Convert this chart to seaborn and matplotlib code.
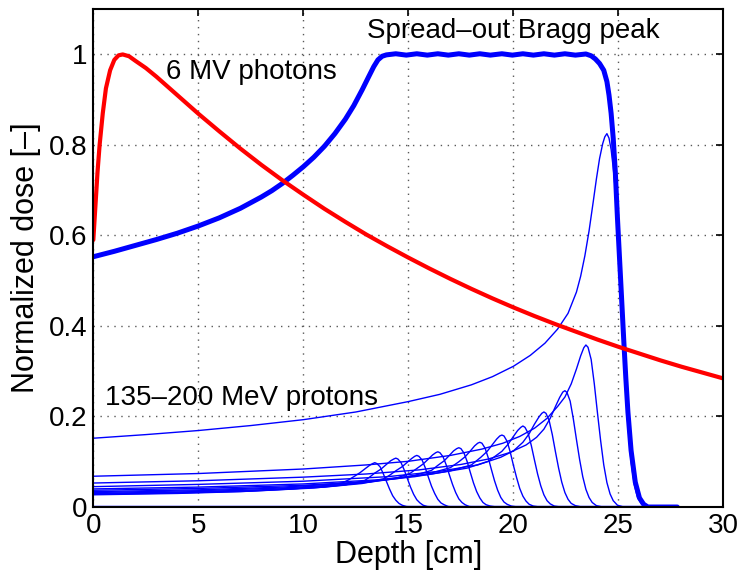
import matplotlib
matplotlib.use("Agg")
import matplotlib.pyplot as plt
import seaborn as sns

# ---------------- data ----------------
photon_depth = [0, 0.1, 0.2, 0.3, 0.45, 0.6, 0.8, 1.0, 1.2, 1.4, 1.7, 2.0, 2.5, 3, 4, 5, 6, 7, 8, 9, 10,
                11, 12, 13, 14, 15, 16, 17, 18, 19, 20, 21, 22, 23, 24, 25, 26, 27, 28, 29, 30]
photon_dose = [0.59, 0.665, 0.74, 0.80, 0.87, 0.925, 0.965, 0.988, 0.998, 1.0, 0.996, 0.986, 0.970,
               0.951, 0.910, 0.869, 0.830, 0.792, 0.756, 0.722, 0.690, 0.659, 0.630, 0.602, 0.576,
               0.551, 0.527, 0.504, 0.482, 0.461, 0.441, 0.422, 0.404, 0.387, 0.370, 0.354, 0.339,
               0.324, 0.310, 0.297, 0.284]

sobp_depth = [0, 1, 2, 3, 4, 5, 6, 7, 8, 8.5, 9, 9.5, 10, 10.5, 11, 11.5, 12, 12.4, 12.8, 13.1, 13.35,
              13.55, 13.75, 13.95, 14.4, 14.9, 15.4, 15.9, 16.4, 16.9, 17.4, 17.9, 18.4, 18.9, 19.45,
              19.95, 20.45, 20.95, 21.45, 21.95, 22.45, 22.95, 23.45, 23.7, 23.9, 24.1, 24.3, 24.45,
              24.55, 24.65, 24.75, 24.85, 24.95, 25.05, 25.15, 25.25, 25.35, 25.45, 25.6, 25.8, 26.0,
              26.2, 26.4, 27.8]
sobp_dose = [0.553, 0.565, 0.578, 0.591, 0.605, 0.621, 0.639, 0.660, 0.685, 0.699, 0.715, 0.733,
             0.752, 0.773, 0.797, 0.825, 0.857, 0.887, 0.922, 0.950, 0.973, 0.988, 0.996, 0.999,
             1.0015, 0.9985, 1.0015, 0.9985, 1.0015, 0.9985, 1.0015, 0.9985, 1.0015, 0.9985, 1.0015,
             0.9985, 1.0015, 0.9985, 1.0015, 0.9985, 1.0015, 0.9985, 1.001, 0.997, 0.99, 0.98,
             0.965, 0.94, 0.91, 0.87, 0.815, 0.74, 0.64, 0.55, 0.46, 0.37, 0.285, 0.21, 0.125,
             0.055, 0.02, 0.006, 0.0, 0.0]

baseline_depth = [0, 27.8]
baseline_dose = [0, 0]

# pristine Bragg peaks (135-200 MeV), one row per beam energy
pristine_depths = [
    [0, 4, 7, 9.5, 11.0, 11.9, 12.15, 12.4, 12.7, 12.95, 13.15, 13.3, 13.4, 13.5, 13.65, 13.8, 13.95, 14.1, 14.25, 14.4, 14.55, 14.7, 14.9, 15.2],
    [0, 4, 7.5, 10.5, 12.0, 12.9, 13.15, 13.4, 13.7, 13.95, 14.15, 14.3, 14.4, 14.5, 14.65, 14.8, 14.95, 15.1, 15.25, 15.4, 15.55, 15.7, 15.9, 16.2],
    [0, 4, 8, 11, 12.8, 13.8, 14.1, 14.4, 14.7, 14.95, 15.15, 15.3, 15.4, 15.5, 15.65, 15.8, 15.95, 16.1, 16.25, 16.4, 16.55, 16.7, 16.9, 17.2],
    [0, 4, 8, 11, 13.2, 14.5, 15.1, 15.4, 15.7, 15.95, 16.15, 16.3, 16.4, 16.5, 16.65, 16.8, 16.95, 17.1, 17.25, 17.4, 17.55, 17.7, 17.9, 18.2],
    [0, 5, 9, 12, 14.0, 15.3, 16.1, 16.4, 16.7, 16.95, 17.15, 17.3, 17.4, 17.5, 17.65, 17.8, 17.95, 18.1, 18.25, 18.4, 18.55, 18.7, 18.9, 19.2],
    [0, 5, 9, 12, 14.5, 16.0, 17.0, 17.4, 17.7, 17.95, 18.15, 18.3, 18.4, 18.5, 18.65, 18.8, 18.95, 19.1, 19.25, 19.4, 19.55, 19.7, 19.9, 20.2],
    [0, 5, 10, 13, 15.3, 17.0, 18.0, 18.45, 18.75, 19.0, 19.2, 19.35, 19.45, 19.55, 19.7, 19.85, 20.0, 20.15, 20.3, 20.45, 20.6, 20.75, 20.95, 21.25],
    [0, 5, 10, 13.5, 16, 17.8, 18.8, 19.45, 19.75, 20.0, 20.2, 20.35, 20.45, 20.55, 20.7, 20.85, 21.0, 21.15, 21.3, 21.45, 21.6, 21.75, 21.95, 22.25],
    [0, 5, 10, 14, 16.5, 18.3, 19.4, 20.0, 20.45, 20.75, 21.0, 21.2, 21.35, 21.45, 21.55, 21.7, 21.85, 22.0, 22.15, 22.3, 22.45, 22.6, 22.75, 22.95, 23.25],
    [0, 5, 10, 13, 15.5, 17.5, 18.8, 19.8, 20.6, 21.1, 21.45, 21.75, 22.0, 22.2, 22.35, 22.45, 22.55, 22.7, 22.85, 23.0, 23.15, 23.3, 23.45, 23.6, 23.75, 23.95, 24.25],
    [0, 5, 10, 13, 15, 17, 18.5, 19.5, 20.3, 21.0, 21.6, 22.1, 22.45, 22.75, 23.0, 23.2, 23.35, 23.45, 23.55, 23.7, 23.85, 24.0, 24.15, 24.3, 24.45, 24.6, 24.75, 24.95, 25.25],
    [0, 2.5, 5, 7.5, 10, 12.5, 15, 16.5, 18, 19, 20, 20.8, 21.5, 22.1, 22.6, 23.0, 23.2, 23.4, 23.6, 23.8, 23.95, 24.1, 24.25, 24.35, 24.45, 24.55, 24.65, 24.75, 24.85, 24.95, 25.05, 25.15, 25.25, 25.35, 25.45, 25.6, 25.75, 25.9, 26.1, 26.35],
]
pristine_doses = [
    [0.027, 0.030, 0.034, 0.040, 0.046, 0.054, 0.060, 0.067, 0.076, 0.085, 0.092, 0.096, 0.098, 0.096, 0.089, 0.074, 0.057, 0.040, 0.025, 0.015, 0.008, 0.004, 0.001, 0.0],
    [0.028, 0.031, 0.035, 0.042, 0.049, 0.058, 0.066, 0.075, 0.084, 0.094, 0.102, 0.106, 0.108, 0.106, 0.098, 0.082, 0.063, 0.044, 0.028, 0.016, 0.009, 0.004, 0.001, 0.0],
    [0.029, 0.032, 0.037, 0.044, 0.052, 0.062, 0.070, 0.080, 0.089, 0.099, 0.107, 0.112, 0.114, 0.112, 0.104, 0.087, 0.066, 0.046, 0.030, 0.017, 0.009, 0.005, 0.001, 0.0],
    [0.030, 0.033, 0.038, 0.045, 0.055, 0.065, 0.075, 0.085, 0.095, 0.106, 0.115, 0.120, 0.122, 0.120, 0.111, 0.093, 0.071, 0.050, 0.032, 0.018, 0.010, 0.005, 0.001, 0.0],
    [0.032, 0.036, 0.042, 0.050, 0.060, 0.070, 0.081, 0.092, 0.102, 0.114, 0.124, 0.129, 0.131, 0.129, 0.119, 0.100, 0.076, 0.053, 0.034, 0.020, 0.010, 0.005, 0.002, 0.0],
    [0.034, 0.038, 0.044, 0.052, 0.063, 0.074, 0.087, 0.100, 0.111, 0.124, 0.135, 0.141, 0.143, 0.141, 0.130, 0.109, 0.083, 0.058, 0.037, 0.021, 0.011, 0.006, 0.002, 0.0],
    [0.037, 0.041, 0.048, 0.056, 0.067, 0.080, 0.093, 0.110, 0.123, 0.138, 0.150, 0.157, 0.159, 0.157, 0.145, 0.121, 0.092, 0.065, 0.041, 0.024, 0.013, 0.006, 0.002, 0.0],
    [0.040, 0.044, 0.051, 0.060, 0.072, 0.086, 0.101, 0.123, 0.139, 0.156, 0.169, 0.176, 0.179, 0.176, 0.163, 0.136, 0.104, 0.073, 0.047, 0.027, 0.014, 0.007, 0.002, 0.0],
    [0.045, 0.050, 0.057, 0.067, 0.079, 0.093, 0.110, 0.124, 0.143, 0.162, 0.183, 0.198, 0.207, 0.210, 0.207, 0.191, 0.160, 0.122, 0.086, 0.055, 0.032, 0.017, 0.008, 0.003, 0.0],
    [0.053, 0.058, 0.066, 0.073, 0.082, 0.094, 0.106, 0.120, 0.137, 0.154, 0.172, 0.196, 0.222, 0.242, 0.254, 0.257, 0.253, 0.234, 0.195, 0.149, 0.105, 0.067, 0.039, 0.021, 0.010, 0.003, 0.0],
    [0.068, 0.074, 0.084, 0.093, 0.101, 0.114, 0.128, 0.141, 0.156, 0.174, 0.196, 0.222, 0.243, 0.272, 0.305, 0.334, 0.352, 0.358, 0.353, 0.326, 0.272, 0.208, 0.147, 0.093, 0.054, 0.029, 0.014, 0.004, 0.0],
    [0.152, 0.160, 0.169, 0.180, 0.193, 0.210, 0.233, 0.249, 0.270, 0.288, 0.311, 0.335, 0.362, 0.393, 0.428, 0.475, 0.510, 0.555, 0.610, 0.675, 0.725, 0.770, 0.803, 0.818, 0.825, 0.815, 0.79, 0.75, 0.70, 0.62, 0.53, 0.43, 0.34, 0.25, 0.18, 0.10, 0.05, 0.022, 0.006, 0.0],
]

x_ticks = [0, 5, 10, 15, 20, 25, 30]
x_tick_labels = ["0", "5", "10", "15", "20", "25", "30"]
y_ticks = [0, 0.2, 0.4, 0.6, 0.8, 1.0]
y_tick_labels = ["0", "0.2", "0.4", "0.6", "0.8", "1"]

label_sobp = "Spread\u2013out Bragg peak"
label_photons = "6 MV photons"
label_protons = "135\u2013200 MeV protons"

# ---------------- figure ----------------
sns.set_theme(style="white")
plt.rcParams["font.family"] = ["Liberation Sans", "DejaVu Sans"]

fig = plt.figure(figsize=(7.4, 5.74), dpi=100)
ax = fig.add_axes([0.1261, 0.1167, 0.8516, 0.8673])

for dep, dose in zip(pristine_depths, pristine_doses):
    sns.lineplot(x=dep, y=dose, ax=ax, color="#0000ff", linewidth=1.0,
                 sort=False, estimator=None, legend=False)

sns.lineplot(x=sobp_depth, y=sobp_dose, ax=ax, color="#0000ff", linewidth=3.6,
             sort=False, estimator=None, legend=False)
sns.lineplot(x=baseline_depth, y=baseline_dose, ax=ax, color="#0000ff", linewidth=2.5,
             sort=False, estimator=None, legend=False)
sns.lineplot(x=photon_depth, y=photon_dose, ax=ax, color="#ff0000", linewidth=3.0,
             sort=False, estimator=None, legend=False)

ax.set_xlim(0, 30)
ax.set_ylim(0, 1.1)
ax.set_xticks(x_ticks)
ax.set_xticklabels(x_tick_labels)
ax.set_yticks(y_ticks)
ax.set_yticklabels(y_tick_labels)
ax.tick_params(direction="in", top=True, right=True, length=5, width=1.2,
               labelsize=20, pad=4, colors="black")
for sp in ax.spines.values():
    sp.set_visible(True)
    sp.set_color("black")
    sp.set_linewidth(1.5)
ax.grid(True, linestyle=(0, (1, 4)), color="0.35", linewidth=1.0)
ax.set_axisbelow(True)

ax.set_xlabel("Depth [cm]", fontsize=22, labelpad=1, color="black")
ax.set_ylabel("Normalized dose [\u2013]", fontsize=22, labelpad=6, color="black")

ax.text(13.03, 1.037, label_sobp, fontsize=20, ha="left", va="baseline", color="black")
ax.text(3.46, 0.946, label_photons, fontsize=20, ha="left", va="baseline", color="black")
ax.text(0.56, 0.226, label_protons, fontsize=20, ha="left", va="baseline", color="black")

fig.savefig("out.png", dpi=100)
